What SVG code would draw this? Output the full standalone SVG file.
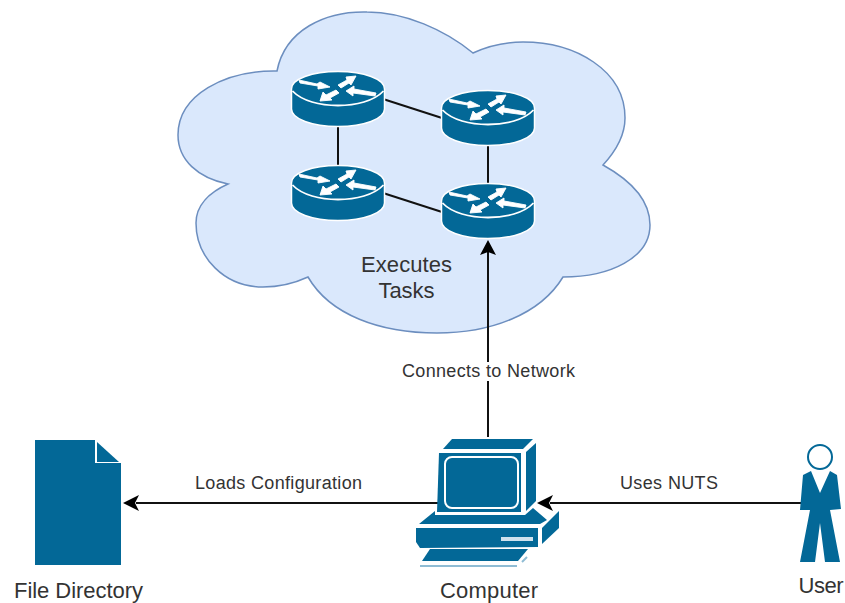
<svg xmlns="http://www.w3.org/2000/svg" width="845" height="603" viewBox="0 0 845 603">
<style>
.t{font-family:"Liberation Sans",Arial,sans-serif;fill:#333}
.big{font-size:22px}
.small{font-size:18px}
.i{fill:#036897}
.ln{fill:none;stroke:#111;stroke-width:2}
.ah{fill:#000}
.ra{fill:#fff;stroke:#fff;stroke-width:0.900;stroke-linejoin:round}
</style>
<defs>
<g id="router">
<path d="M-46.500 -10C-46.500 -20 -26 -27.500 0 -27.500C26 -27.500 46.500 -20 46.500 -10V10C46.500 20 26 27.500 0 27.500C-26 27.500 -46.500 20 -46.500 10Z" class="i" stroke="#fff" stroke-width="1.500"/>
<path d="M-45.500 -8C-36 2 -18 6.500 0 6.500C18 6.500 36 2 45.500 -8" fill="none" stroke="#fff" stroke-width="1.800"/>
<path class="ra" d="M-39 -19L-38 -16L-20 -13L-20 -10L-8 -12L-18 -17L-21 -15Z"/>
<path class="ra" d="M0 -14L3 -11L11 -16L13 -14L18 -23L8 -22L9 -19Z"/>
<path class="ra" d="M8 -8L16 -13L16 -10L38 -6L37 -3L15 -6L15 -3Z"/>
<path class="ra" d="M-2 -9L1 -6L-8 -1L-6 1L-18 2L-15 -7L-12 -4Z"/>
</g>
</defs>
<path id="cloud" d="M277 71C285 30 325 11 367 12C405 12 445 30 473 53C490 45 505 42 523 42C575 42 625 70 625 118C625 135 615 152 603 165C630 180 650 200 650 225C650 258 610 277 563 277C540 315 490 333 437 333C380 333 330 315 308 277C295 283 280 287 263 287C225 287 196 258 196 223C196 205 210 192 228 184C198 178 178 160 178 135C178 95 225 70 277 71Z" fill="#dae8fc" stroke="#6c8ebf" stroke-width="1.500"/>
<g id="connectors">
<path class="ln" d="M383 99L442 118"/>
<path class="ln" d="M338 126V166"/>
<path class="ln" d="M488 145V184"/>
<path class="ln" d="M383 193L442 212"/>
<path class="ln" d="M488 437V252"/>
<path class="ah" d="M488 240L480 255L488 252L496 255Z"/>
<path class="ln" d="M438 503H136"/>
<path class="ah" d="M123 503L139 495L135 503L139 511Z"/>
<path class="ln" d="M802 503H550"/>
<path class="ah" d="M537 503L553 495L549 503L553 511Z"/>
</g>
<g id="router1"><use href="#router" x="338" y="99"/></g>
<g id="router2"><use href="#router" x="488" y="118"/></g>
<g id="router3"><use href="#router" x="338" y="193"/></g>
<g id="router4"><use href="#router" x="488" y="211"/></g>
<g id="computer">
<path class="i" d="M452 439H533L523 449H443Z"/>
<path class="i" d="M526 452L536 443V501L526 511Z"/>
<path class="i" d="M439 453H521V512H437Z"/>
<rect x="445" y="457" width="73" height="51" rx="7" fill="none" stroke="#fff" stroke-width="2"/>
<path class="i" d="M435 511V515H525L533 508L547 520L540 524H419Z"/>
<path class="i" d="M416 528H538V547L420 548L416 542Z"/>
<path class="i" d="M542 528L559 511V528L542 544Z"/>
<rect x="501" y="537" width="32" height="4" fill="#cfe2ee"/>
<path class="i" d="M430 549H528L518 561H422Z"/>
<path d="M420 566H517" stroke="#8fbcd4" stroke-width="2" fill="none"/>
<path d="M522 562L527 557" stroke="#8fbcd4" stroke-width="2" fill="none"/>
</g>
<g id="file">
<path class="i" d="M35 440H95V463H121V565H35Z"/>
<path class="i" d="M97 442L119 462H97Z"/>
</g>
<g id="user">
<circle cx="820" cy="457" r="12" fill="#fff" stroke="#036897" stroke-width="2"/>
<path class="i" d="M811 471L820 493L830 471L837 475L841 509L830 510L840 562H825L820 523L815 562H800L810 510L800 510L803 475Z"/>
</g>
<rect x="402" y="362" width="173" height="19" fill="#fff"/>
<g class="t" text-anchor="middle">
<text class="big" x="406.500" y="272" textLength="91">Executes</text>
<text class="big" x="406.500" y="298">Tasks</text>
<text class="small" x="488.500" y="377" textLength="173">Connects to Network</text>
<text class="small" x="278.500" y="489" textLength="167">Loads Configuration</text>
<text class="small" x="669" y="489" textLength="98">Uses NUTS</text>
<text class="big" x="78.500" y="598" textLength="129">File Directory</text>
<text class="big" x="489" y="598" textLength="98">Computer</text>
<text class="big" x="821" y="593" textLength="45">User</text>
</g>
</svg>
